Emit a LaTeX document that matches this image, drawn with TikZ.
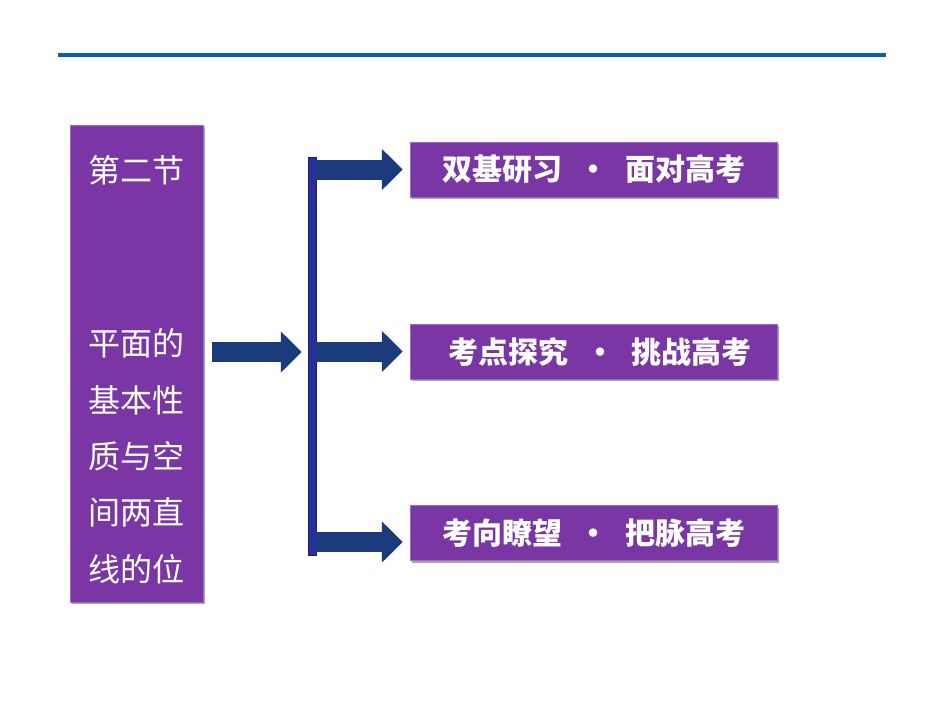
\documentclass[tikz,border=0pt]{standalone}
\usepackage{fontspec}
\usepackage{xcolor}
\usepackage{tikz}
\usetikzlibrary{arrows.meta}
\usetikzlibrary{calc}
\usetikzlibrary{positioning}
\usetikzlibrary{shadows}
\newfontfamily\cjk{Noto Sans CJK SC}
\definecolor{boxpurple}{HTML}{7A36A4}
\definecolor{boxedge}{HTML}{9C6CC4}
\definecolor{arrownavy}{HTML}{1B3B7C}
\definecolor{barblue}{HTML}{272F9A}
\definecolor{rulerblue}{HTML}{0C5EA8}

\begin{document}
\begin{tikzpicture}[
  x = 1pt, y = -1pt,
   pbox/.style = {draw=boxedge, thin, fill=boxpurple, inner sep=0pt,
                  drop shadow={shadow xshift=2pt, shadow yshift=-2pt,
                               fill=black, opacity=.35}},
   topic/.style = {pbox, minimum width=367pt, minimum height=55pt,
                   text=white, font=\cjk\bfseries\fontsize{30}{36}\selectfont},
    ltxt/.style = {text=white, inner sep=0pt,
                   font=\cjk\fontsize{32}{38}\selectfont},
     arr/.style = {arrownavy, line width=20pt,
                   -{Triangle[length=21pt, width=40pt]}}
                   ]
\useasboundingbox (0,0) rectangle (950,713);
% rule on top
\draw[rulerblue, line width=4pt] (58,55) -- (886,55);
% left box and its text
\node[pbox, minimum width=133pt, minimum height=477pt] (lbox) at (136.5,363.5) {};
\node[ltxt] (l0) at (136.5,170) {第二节};
\foreach \t [count=\k] in {平面的, 基本性, 质与空, 间两直, 线的位}
    \node[ltxt] (l\k) at (136.5, 287.5+56.25*\k) {\t};
% vertical bar
\node[draw=barblue!70!black, fill=barblue, inner sep=0pt,
      minimum width=8pt, minimum height=398pt] (bar) at (312,356) {};
% right boxes
\node[topic] (t1) at (593.5,169.5) {双基研习\hspace{.55em}·\hspace{.55em}面对高考};
\node[topic] (t2) at (593.5,351.5) {\hspace{.45em}考点探究\hspace{.55em}·\hspace{.55em}挑战高考};
\node[topic] (t3) at (593.5,533) {考向瞭望\hspace{.55em}·\hspace{.55em}把脉高考\hspace{.4em}};
% arrows
\draw[arr, shorten <=9pt, shorten >=6pt] (lbox.east |- 0,352) -- (bar.west |- 0,352);
\draw[arr, shorten >=7pt] (bar.east |- t1.west) -- (t1.west);
\draw[arr, shorten >=7pt] (bar.east |- t2.west) -- (t2.west);
\draw[arr, shorten >=7pt] (bar.east |- 0,542) -- (t3.west |- 0,542);
\end{tikzpicture}
\end{document}
